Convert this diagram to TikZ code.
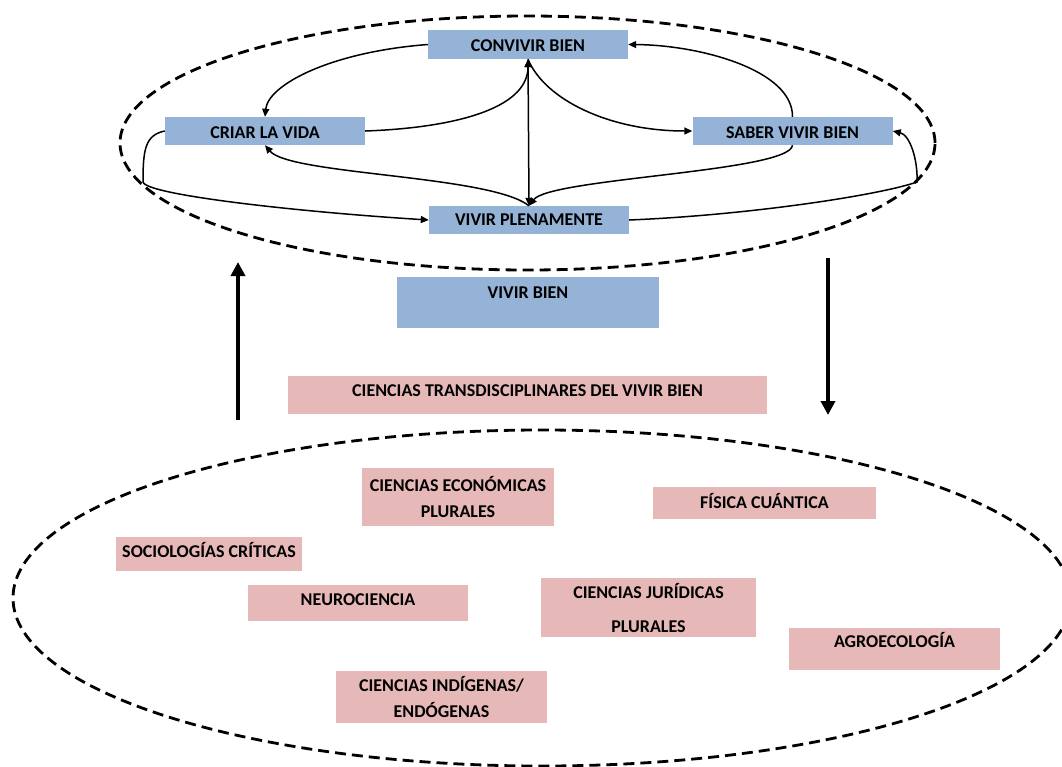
\documentclass[tikz,border=0pt]{standalone}
\usepackage{fontspec}
\setmainfont{Carlito}
\usetikzlibrary{arrows.meta}
\definecolor{bluebox}{HTML}{95B3D7}
\definecolor{pinkbox}{HTML}{E6B9B8}
\begin{document}
\begin{tikzpicture}[x=1pt,y=-1pt,
  box/.style={inner sep=0pt, font=\bfseries\fontsize{18}{22}\selectfont},
  one/.style={text height=11.4pt, text depth=0pt},
  lift/.style={text height=11.4pt, text depth=#1},
  sink/.style={text height=#1, text depth=0pt},
  bbox/.style={box, fill=bluebox},
  pbox/.style={box, fill=pinkbox, align=center},
  conn/.style={line width=1.5pt, -{Triangle[length=8pt,width=7pt]}},
  big/.style={line width=4pt, -{Triangle[length=14pt,width=14pt]}},
  ring/.style={line width=2.8pt, dash pattern=on 11pt off 6pt}
]
\useasboundingbox (0,0) rectangle (1062,766);
% ellipses
\draw[ring] (527.5,143) ellipse [x radius=407.5pt, y radius=127pt];
\draw[ring] (542,598) ellipse [x radius=529pt, y radius=168pt];
% blue boxes
\node[bbox, sink=14.4pt, minimum width=200pt, minimum height=29pt] (cb) at (528,44.5) {CONVIVIR BIEN};
\node[bbox, sink=15.4pt, minimum width=200pt, minimum height=28pt] (cv) at (265,131) {CRIAR LA VIDA};
\node[bbox, sink=15.4pt, minimum width=200pt, minimum height=28pt] (sv) at (792.5,131) {SABER VIVIR BIEN};
\node[bbox, one, minimum width=200pt, minimum height=28pt] (vp) at (529,220) {VIVIR PLENAMENTE};
\node[bbox, lift=19pt, minimum width=262pt, minimum height=51pt] (vb) at (528,302.5) {VIVIR BIEN};
% pink boxes
\node[pbox, lift=8pt, minimum width=479pt, minimum height=38pt] (ct) at (527.5,395) {CIENCIAS TRANSDISCIPLINARES DEL VIVIR BIEN};
\node[pbox, font=\bfseries\fontsize{18}{26}\selectfont, minimum width=192pt, minimum height=58pt] (ce) at (458,497) {CIENCIAS ECONÓMICAS\\PLURALES};
\node[pbox, one, minimum width=223pt, minimum height=32pt] (fc) at (764.5,503) {FÍSICA CUÁNTICA};
\node[pbox, lift=4pt, minimum width=186pt, minimum height=34pt] (sc) at (209,554) {SOCIOLOGÍAS CRÍTICAS};
\node[pbox, lift=6pt, minimum width=220pt, minimum height=36pt] (ne) at (358,603) {NEUROCIENCIA};
\node[pbox, font=\bfseries\fontsize{18}{34}\selectfont, minimum width=215pt, minimum height=59pt] (cj) at (648.5,607.5) {CIENCIAS JURÍDICAS\\PLURALES};
\node[pbox, lift=14pt, minimum width=211pt, minimum height=42pt] (ag) at (894.5,649) {AGROECOLOGÍA};
\node[pbox, font=\bfseries\fontsize{18}{26}\selectfont, minimum width=211pt, minimum height=52pt] (ci) at (441.5,697) {CIENCIAS INDÍGENAS/\\ENDÓGENAS};
% helper coordinates
\coordinate (k1) at (143,182);
\coordinate (k2) at (917,182);
\coordinate (ua) at (238,420);
\coordinate (ub) at (238,262);
\coordinate (da) at (828,258);
\coordinate (db) at (828,415);
% thick arrows
\draw[big] (ua) -- (ub);
\draw[big] (da) -- (db);
% connectors
\draw[conn] (cb.west) .. controls (330,52) and (268,85) .. (cv.north);
\draw[conn] (cv.east) .. controls (450,128) and (528,110) .. (cb.south);
\draw[conn, {Triangle[length=8pt,width=7pt]}-{Triangle[length=8pt,width=7pt]}] (cb.south) -- (vp.north);
\draw[conn] (vp.north) .. controls (490,175) and (290,175) .. (cv.south);
\draw[conn] (cv.west) .. controls (145,135) and (143,150) .. (k1) .. controls (146,195) and (300,212) .. (vp.west);
\draw[conn] (cb.south) .. controls (545,100) and (610,131) .. (sv.west);
\draw[conn] (sv.north) .. controls (793,70) and (700,45) .. (cb.east);
\draw[conn] (sv.south) .. controls (790,172) and (550,178) .. (vp.north);
\draw[conn] (vp.east) .. controls (750,215) and (880,195) .. (k2) .. controls (918,160) and (910,135) .. (sv.east);
\end{tikzpicture}
\end{document}
